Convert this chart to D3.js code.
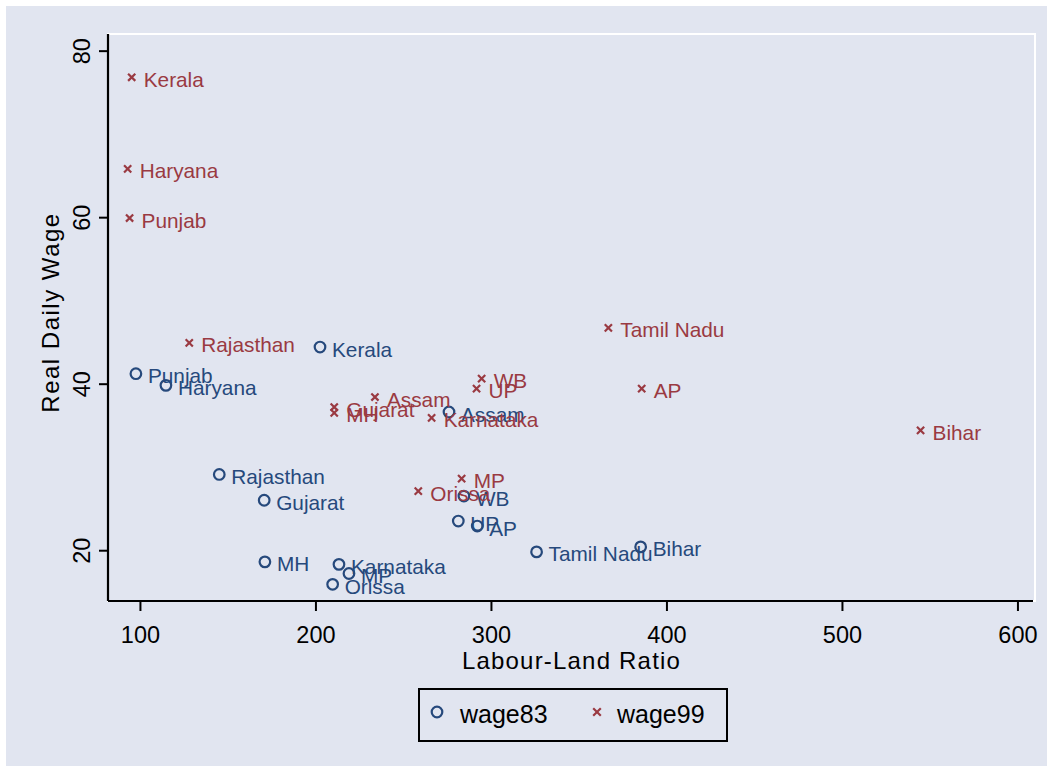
<!DOCTYPE html>
<html>
<head>
<meta charset="utf-8">
<script src="https://cdn.jsdelivr.net/npm/d3@7"></script>
<style>
  html, body { margin: 0; padding: 0; background: #ffffff; }
  svg { display: block; font-family: "Liberation Sans", Arial, Helvetica, sans-serif; }
</style>
</head>
<body>
<svg id="chart" width="1053" height="772"></svg>
<script>
// ---- data ----
const states83 = ["Kerala","Punjab","Haryana","Assam","Rajasthan","Gujarat","WB","UP","AP","Tamil Nadu","Bihar","MH","Karnataka","MP","Orissa"];
const ratio83  = [202.6, 97.7, 114.8, 276.1, 145.2, 170.8, 284.6, 281.4, 292.2, 326.0, 385.3, 171.2, 213.4, 219.1, 209.8];
const wage83   = [44.4, 41.2, 39.8, 36.6, 29.1, 26.0, 26.5, 23.5, 22.9, 19.8, 20.4, 18.6, 18.3, 17.2, 15.9];

const states99 = ["Kerala","Haryana","Punjab","Rajasthan","Tamil Nadu","WB","UP","AP","Assam","Gujarat","MH","Karnataka","Bihar","MP","Orissa"];
const ratio99  = [95.3, 93.0, 94.1, 128.1, 366.9, 294.7, 291.8, 385.9, 233.9, 210.7, 210.7, 266.2, 544.8, 283.3, 258.6];
const wage99   = [76.8, 65.8, 59.9, 44.9, 46.7, 40.6, 39.4, 39.4, 38.4, 37.2, 36.5, 35.9, 34.4, 28.6, 27.1];

const xTicks = [100, 200, 300, 400, 500, 600];
const yTicks = [20, 40, 60, 80];
const xTitle = "Labour-Land Ratio";
const yTitle = "Real Daily Wage";
const seriesNames = ["wage83", "wage99"];

// ---- layout ----
const W = 1053, H = 772;
const plot = { left: 108, right: 1035, top: 34, bottom: 601 };
const navy = "#26497c", maroon = "#9a3a42", bg = "#e1e5f0";

const svg = d3.select("#chart");
svg.append("rect").attr("x", 6).attr("y", 6).attr("width", W - 12).attr("height", H - 12).attr("fill", bg);

const x = d3.scaleLinear().domain([81.8, 610]).range([plot.left, plot.right]);
const y = d3.scaleLinear().domain([13.9, 82.0]).range([plot.bottom, plot.top]);

// plot region outline (white)
svg.append("rect")
  .attr("x", plot.left).attr("y", plot.top)
  .attr("width", plot.right - plot.left).attr("height", plot.bottom - plot.top)
  .attr("fill", "none").attr("stroke", "#ffffff").attr("stroke-width", 2);

// x axis
const xAxis = svg.append("g").attr("transform", `translate(0,${plot.bottom})`)
  .call(d3.axisBottom(x).tickValues(xTicks).tickSize(10).tickPadding(5).tickSizeOuter(0));
xAxis.select(".domain").attr("stroke", "#000").attr("stroke-width", 2.2)
  .attr("d", `M${plot.left},0H${plot.right - 2}`);
xAxis.selectAll(".tick line").attr("stroke", "#000").attr("stroke-width", 2);
xAxis.selectAll(".tick text").attr("fill", "#000").attr("font-size", 23.5)
  .attr("font-family", "Liberation Sans, Arial, sans-serif")
  .attr("dy", null).attr("y", 42);

// y axis
const yAxis = svg.append("g").attr("transform", `translate(${plot.left},0)`)
  .call(d3.axisLeft(y).tickValues(yTicks).tickSize(9).tickSizeOuter(0));
yAxis.select(".domain").attr("stroke", "#000").attr("stroke-width", 2.2)
  .attr("d", `M0,${plot.top}V${plot.bottom}`);
yAxis.selectAll(".tick line").attr("stroke", "#000").attr("stroke-width", 2);
yAxis.selectAll(".tick text")
  .attr("fill", "#000").attr("font-size", 23.5)
  .attr("font-family", "Liberation Sans, Arial, sans-serif")
  .attr("x", null).attr("dy", null).attr("y", null)
  .attr("text-anchor", "middle")
  .attr("transform", "translate(-18,0) rotate(-90)");

// axis titles
svg.append("text").attr("x", (plot.left + plot.right) / 2).attr("y", 669)
  .attr("text-anchor", "middle").attr("font-size", 24).attr("letter-spacing", 1.2)
  .attr("fill", "#000").text(xTitle);
svg.append("text")
  .attr("transform", `translate(59,${(plot.top + plot.bottom) / 2 - 5}) rotate(-90)`)
  .attr("text-anchor", "middle").attr("font-size", 24).attr("letter-spacing", 1.5)
  .attr("fill", "#000").text(yTitle);

// markers
const g = svg.append("g");
const d83 = states83.map((s, i) => ({ s, x: ratio83[i], y: wage83[i] }));
const d99 = states99.map((s, i) => ({ s, x: ratio99[i], y: wage99[i] }));

const crossPath = (cx, cy, r) => `M${cx - r},${cy - r}L${cx + r},${cy + r}M${cx - r},${cy + r}L${cx + r},${cy - r}`;

g.selectAll("circle.m83").data(d83).join("circle")
  .attr("cx", d => x(d.x)).attr("cy", d => y(d.y)).attr("r", 5.3)
  .attr("fill", "none").attr("stroke", navy).attr("stroke-width", 2.2);
g.selectAll("path.m99").data(d99).join("path")
  .attr("d", d => crossPath(x(d.x), y(d.y), 3.6))
  .attr("fill", "none").attr("stroke", maroon).attr("stroke-width", 2.2);

// labels
g.selectAll("text.l83").data(d83).join("text")
  .attr("x", d => x(d.x) + 12).attr("y", d => y(d.y) + 9.5)
  .attr("font-size", 20.8).attr("fill", navy).text(d => d.s);
g.selectAll("text.l99").data(d99).join("text")
  .attr("x", d => x(d.x) + 12).attr("y", d => y(d.y) + 9.5)
  .attr("font-size", 20.8).attr("fill", maroon).text(d => d.s);

// legend
const lg = svg.append("g");
lg.append("rect").attr("x", 419).attr("y", 689).attr("width", 308).attr("height", 52)
  .attr("fill", bg).attr("stroke", "#000").attr("stroke-width", 2);
lg.append("circle").attr("cx", 437).attr("cy", 712).attr("r", 5.3)
  .attr("fill", "none").attr("stroke", navy).attr("stroke-width", 2.2);
lg.append("text").attr("x", 460).attr("y", 723).attr("font-size", 25).attr("fill", "#000").text(seriesNames[0]);
lg.append("path").attr("d", crossPath(597, 712, 3.8))
  .attr("fill", "none").attr("stroke", maroon).attr("stroke-width", 2.2);
lg.append("text").attr("x", 617).attr("y", 723).attr("font-size", 25).attr("fill", "#000").text(seriesNames[1]);
</script>
</body>
</html>
